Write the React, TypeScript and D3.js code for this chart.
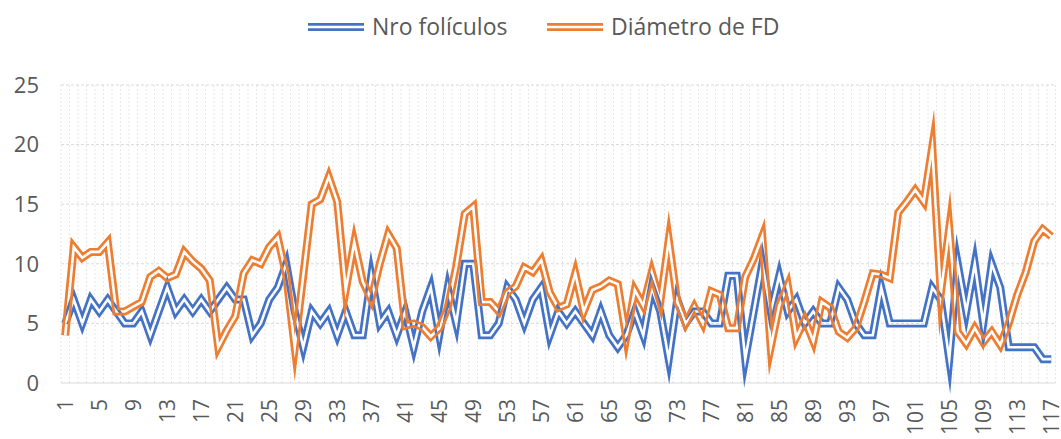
import { useEffect, useRef } from 'react'
import * as d3 from 'd3'

// categorías 1..117
const CATEGORIES = Array.from({ length: 117 }, (_, i) => String(i + 1))

const NRO_FOLICULOS = [
  5, 7, 5, 7, 6, 7, 6, 5, 5, 6,
  4, 6, 8, 6, 7, 6, 7, 6, 7, 8,
  7, 7, 4, 5, 7, 8, 10, 6, 3, 6,
  5, 6, 4, 6, 4, 4, 9, 5, 6, 4,
  6, 3, 6, 8, 4, 8, 5, 10, 10, 4,
  4, 5, 8, 7, 5, 7, 8, 4, 6, 5,
  6, 5, 4, 6, 4, 3, 4, 6, 4, 8,
  6, 2, 7, 5, 6, 6, 5, 5, 9, 9,
  2, 6, 10, 6, 9, 6, 7, 5, 6, 5,
  5, 8, 7, 5, 4, 4, 8, 5, 5, 5,
  5, 5, 8, 7, 2, 10, 6, 10, 5, 10,
  8, 3, 3, 3, 3, 2, 2,
]

const DIAMETRO_FD = [
  4.0, 11.4, 10.5, 11.0, 11.0, 11.8, 6.0, 6.0, 6.4, 6.8,
  8.9, 9.4, 8.8, 9.1, 11.0, 10.2, 9.6, 8.6, 3.0, 4.4,
  5.6, 9.2, 10.3, 10.0, 11.4, 12.2, 9.0, 3.0, 9.0, 15.0,
  15.4, 17.3, 15.2, 7.8, 11.8, 8.5, 7.0, 10.0, 12.5, 11.3,
  4.8, 5.0, 4.7, 3.9, 4.6, 6.3, 9.8, 14.2, 14.8, 6.8,
  6.8, 6.0, 7.6, 8.1, 9.7, 9.3, 10.3, 7.6, 6.3, 6.6,
  9.2, 6.0, 7.8, 8.1, 8.6, 8.3, 3.8, 7.8, 6.5, 9.3,
  6.8, 12.0, 6.8, 5.0, 6.4, 5.0, 7.7, 7.4, 4.6, 4.6,
  8.9, 10.4, 12.3, 3.0, 6.5, 8.2, 3.8, 5.3, 3.5, 6.8,
  6.3, 4.3, 3.8, 4.6, 6.8, 9.2, 9.1, 8.8, 14.3, 15.2,
  16.2, 15.2, 19.8, 7.5, 13.0, 4.3, 3.3, 4.6, 3.4, 4.3,
  3.2, 5.0, 7.4, 9.3, 11.9, 12.9, 12.3,
]

const SERIES_NAMES = ['Nro folículos', 'Diámetro de FD']
const SERIES_VALUES = [NRO_FOLICULOS, DIAMETRO_FD]
const Y_TICKS = [0, 5, 10, 15, 20, 25]

const COLORS = ['#4472C4', '#ED7D31']
const W = 1061, H = 439
const M = { left: 61, right: 1055.5, top: 85, bottom: 383 }
const FONT = '"Open Sans", "Noto Sans", sans-serif'
const TEXT = '#595959'
const LINE_W = 8      // ancho total de la línea doble
const GAP_W = 2.6     // hueco transparente en el medio

export default function App() {
  const svgRef = useRef<SVGSVGElement>(null)

  useEffect(() => {
    const svg = d3.select(svgRef.current)
    svg.selectAll('*').remove()

    const x = d3.scaleBand().domain(CATEGORIES).range([M.left, M.right]).padding(0)
    const y = d3.scaleLinear().domain([0, 25]).range([M.bottom, M.top])
    const cx = (c: string) => x(c)! + x.bandwidth() / 2

    // rejilla vertical (entre categorías)
    const edges = CATEGORIES.map((c) => x(c)!).concat([M.right])
    svg.append('g').selectAll('line').data(edges).join('line')
      .attr('x1', (d) => d).attr('x2', (d) => d)
      .attr('y1', M.top).attr('y2', M.bottom)
      .attr('stroke', '#E6E6E6').attr('stroke-dasharray', '2 2')

    // rejilla horizontal
    svg.append('g').selectAll('line').data(Y_TICKS.filter((t) => t > 0)).join('line')
      .attr('x1', M.left).attr('x2', M.right)
      .attr('y1', (d) => y(d)).attr('y2', (d) => y(d))
      .attr('stroke', '#D9D9D9').attr('stroke-dasharray', '3 2')

    // eje x
    svg.append('line')
      .attr('x1', M.left).attr('x2', M.right)
      .attr('y1', y(0)).attr('y2', y(0))
      .attr('stroke', '#D9D9D9')

    // etiquetas eje y
    svg.append('g').selectAll('text').data(Y_TICKS).join('text')
      .attr('x', 39).attr('y', (d) => y(d)).attr('dy', '0.35em')
      .attr('text-anchor', 'end')
      .attr('font-family', FONT).attr('font-size', 22).attr('fill', TEXT)
      .text((d) => d)

    // etiquetas eje x (cada 4)
    const xLabels = CATEGORIES.filter((_, i) => i % 4 === 0)
    svg.append('g').selectAll('text').data(xLabels).join('text')
      .attr('transform', (d) => `translate(${cx(d)},399) rotate(-90)`)
      .attr('dy', '0.35em')
      .attr('text-anchor', 'end')
      .attr('font-family', FONT).attr('font-size', 21).attr('fill', TEXT)
      .text((d) => d)

    // series: línea doble (trazo + hueco transparente por máscara)
    const defs = svg.append('defs')
    SERIES_VALUES.forEach((values, si) => {
      const line = d3.line<number>()
        .x((_, i) => cx(CATEGORIES[i]))
        .y((d) => y(d))
      const d = line(values)!
      const mask = defs.append('mask').attr('id', `gap-${si}`)
        .attr('maskUnits', 'userSpaceOnUse')
        .attr('x', 0).attr('y', 0).attr('width', W).attr('height', H)
      mask.append('rect').attr('width', W).attr('height', H).attr('fill', 'white')
      mask.append('path').attr('d', d).attr('fill', 'none')
        .attr('stroke', 'black').attr('stroke-width', GAP_W)
        .attr('stroke-linejoin', 'miter').attr('stroke-miterlimit', 20)
      svg.append('path').attr('d', d).attr('fill', 'none')
        .attr('stroke', COLORS[si]).attr('stroke-width', LINE_W)
        .attr('stroke-linejoin', 'miter').attr('stroke-miterlimit', 20)
        .attr('mask', `url(#gap-${si})`)
    })

    // leyenda
    const legendX = [308, 547]
    const off = (LINE_W + GAP_W) / 4
    const th = (LINE_W - GAP_W) / 2
    SERIES_NAMES.forEach((name, si) => {
      const g = svg.append('g').attr('transform', `translate(${legendX[si]},27)`)
      ;[-off, off].forEach((dy) => {
        g.append('line').attr('x1', 0).attr('x2', 56).attr('y1', dy).attr('y2', dy)
          .attr('stroke', COLORS[si]).attr('stroke-width', th)
      })
      g.append('text').attr('x', 64).attr('y', 8)
        .attr('font-family', FONT).attr('font-size', 23).attr('fill', TEXT)
        .text(name)
    })
  }, [])

  return (
    <svg
      ref={svgRef}
      width={W}
      height={H}
      style={{ position: 'absolute', left: 0, top: 0, background: '#fff', display: 'block' }}
    />
  )
}
